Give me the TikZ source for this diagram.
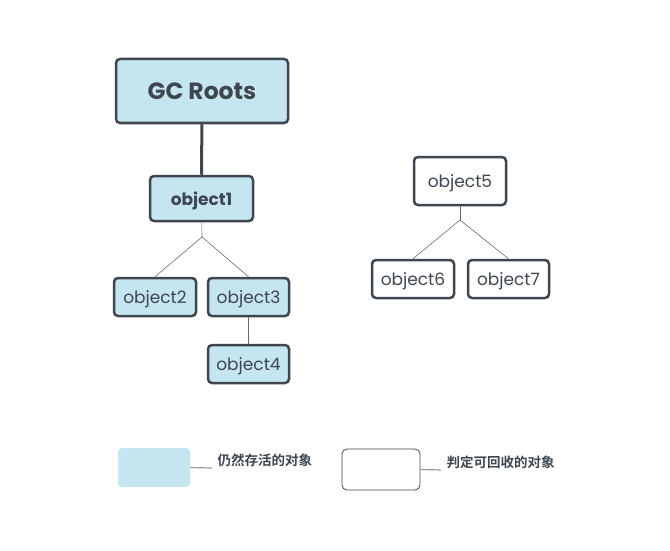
\documentclass[tikz,border=0pt]{standalone}
\usepackage{fontspec}
\setmainfont{Poppins}
\newfontfamily\cjk{Noto Sans CJK SC}[BoldFont={* Bold}]
\usepackage{xcolor}
\usepackage{tikz}
\usetikzlibrary{arrows.meta, positioning}

\definecolor{alive}{HTML}{C5E6F0}
\definecolor{edge}{HTML}{3E4650}

\begin{document}
\begin{tikzpicture}[
    x=1pt, y=-1pt,
    box/.style={
        rectangle,
        draw=edge,
        line width=2.5pt,
        rounded corners=4pt,
        align=center,
        text=edge,
        inner sep=0pt,
        text height=15pt,
        text depth=2pt,
        font=\fontsize{17}{19}\selectfont
    },
    live/.style={
        box,
        fill=alive
    },
    link/.style={
        draw=edge!80,
        line width=0.6pt
    },
    rootlink/.style={
        draw=edge,
        line width=3pt
    },
    legendtext/.style={
        anchor=west,
        text=edge,
        font=\cjk\bfseries\fontsize{13.5}{15}\selectfont
    }
]
\useasboundingbox (0,0) rectangle (670,551);

\node[live, minimum width=172pt, minimum height=64pt, text height=19pt,
      font=\bfseries\fontsize{23.5}{26}\selectfont] (roots) at (202,91) {GC Roots};

\node[live, minimum width=103pt, minimum height=45pt, text height=16pt,
      font=\bfseries\fontsize{17}{19}\selectfont] (object1) at (201.5,198.5) {object1};

\node[live, minimum width=82pt, minimum height=38pt] (object2) at (155,297) {object2};
\node[live, minimum width=81pt, minimum height=38pt] (object3) at (248.5,297) {object3};
\node[live, minimum width=81pt, minimum height=38pt] (object4) at (248.5,364) {object4};

\node[box, minimum width=92pt, minimum height=48pt] (object5) at (460,181) {object5};
\node[box, minimum width=82pt, minimum height=38pt] (object6) at (413,279) {object6};
\node[box, minimum width=81pt, minimum height=38pt] (object7) at (508.5,279) {object7};

\coordinate (split1) at (202,237);
\coordinate (split5) at (460,220);

\draw[rootlink] (roots) -- (object1);
\draw[link] (object1) -- (split1);
\draw[link] (split1) -- (object2.north);
\draw[link] (split1) -- (object3.north);
\draw[link] (object3) -- (object4);

\draw[link] (object5) -- (split5);
\draw[link] (split5) -- (object6.north);
\draw[link] (split5) -- (object7.north);

% legend
\node[fill=alive, rounded corners=4pt, minimum width=72pt, minimum height=39pt,
      inner sep=0pt] (keyalive) at (154,467.5) {};
\node[legendtext] (textalive) at (214,460) {仍然存活的对象};
\coordinate (tipalive) at (212,468);
\draw[draw=gray!80, line width=1.2pt] (keyalive.east) -- (tipalive);

\node[draw=edge, line width=0.8pt, rounded corners=5pt, minimum width=78pt,
      minimum height=41pt, inner sep=0pt] (keydead) at (381,469.5) {};
\node[legendtext] (textdead) at (443,462) {判定可回收的对象};
\coordinate (tipdead) at (441,470);
\draw[draw=gray!80, line width=1.2pt] (keydead.east) -- (tipdead);

\end{tikzpicture}
\end{document}
